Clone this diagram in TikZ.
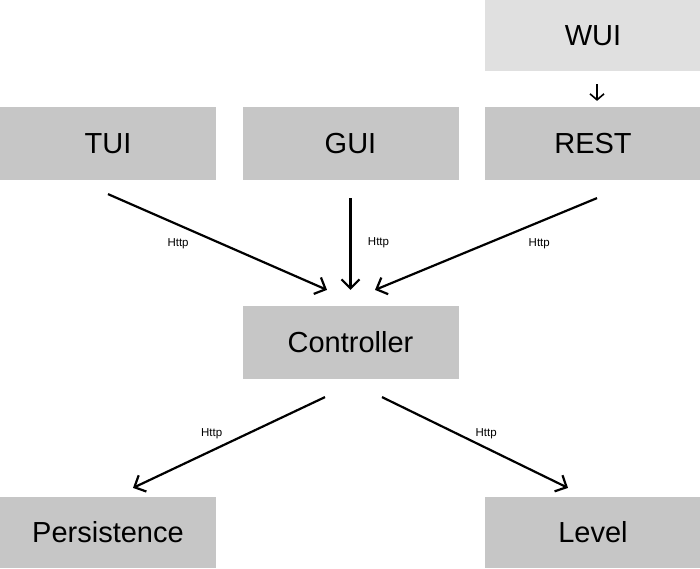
\documentclass[tikz,border=0pt]{standalone}
\usepackage{fontspec}
\setmainfont{Liberation Sans}
\usetikzlibrary{positioning,arrows.meta}
\definecolor{boxgray}{RGB}{198,198,198}
\definecolor{wuigray}{RGB}{224,224,224}

\begin{document}
\begin{tikzpicture}[x=1pt,y=1pt,node distance=242.5pt,on grid,line width=2.2pt,
 layer/.style={fill=boxgray,minimum width=216pt,minimum height=73pt,inner sep=0pt,font=\fontsize{29}{32}\selectfont},
 proto/.style={font=\fontsize{11.5}{14}\selectfont},
 >={Straight Barb[length=9pt,width=18pt]}]
 \useasboundingbox (0,0) rectangle (700,568);
 \node[layer] (tui) at (108,424.5) {TUI};
 \node[layer] (gui) [right=of tui] {GUI};
 \node[layer] (rest) [right=of gui] {REST};
 \node[layer,fill=wuigray,minimum height=71pt] (wui) [above=108pt of rest] {WUI};
 \node[layer] (ctrl) [below=199pt of gui] {Controller};
 \node[layer,minimum height=71pt] (pers) at (108,35.5) {Persistence};
 \node[layer,minimum height=71pt] (level) [right=485pt of pers] {Level};
 % arrow ends
 \coordinate (wuiout) at ([xshift=4pt,yshift=-12pt]wui.south);
 \coordinate (restin) at ([xshift=4pt,yshift=5pt]rest.north);
 \coordinate (tuiout) at ([yshift=-13pt]tui.south);
 \coordinate (guiout) at ([yshift=-17pt]gui.south);
 \coordinate (restout) at ([xshift=4pt,yshift=-17pt]rest.south);
 \coordinate (ctrlinL) at ([xshift=-23.5pt,yshift=15pt]ctrl.north);
 \coordinate (ctrlinM) at ([yshift=15pt]ctrl.north);
 \coordinate (ctrlinR) at ([xshift=24.5pt,yshift=15pt]ctrl.north);
 \coordinate (ctrloutL) at ([xshift=-25.5pt,yshift=-17pt]ctrl.south);
 \coordinate (ctrloutR) at ([xshift=31.5pt,yshift=-17pt]ctrl.south);
 \coordinate (persin) at ([xshift=25pt,yshift=8pt]pers.north);
 \coordinate (levelin) at ([xshift=-25pt,yshift=8pt]level.north);
 \path[->]
 (wuiout) edge[line width=1.6pt,-{Straight Barb[length=6pt,width=14pt]}] (restin)
 (tuiout) edge node[proto,pos=.32,yshift=-19pt] {Http} (ctrlinL)
 (guiout) edge node[proto,pos=.49,xshift=28pt] {Http} (ctrlinM)
 (restout) edge node[proto,pos=.26,yshift=-22pt] {Http} (ctrlinR)
 (ctrloutL) edge node[proto,pos=.59,yshift=17pt] {Http} (persin)
 (ctrloutR) edge node[proto,pos=.56,yshift=14.5pt] {Http} (levelin);
\end{tikzpicture}
\end{document}
